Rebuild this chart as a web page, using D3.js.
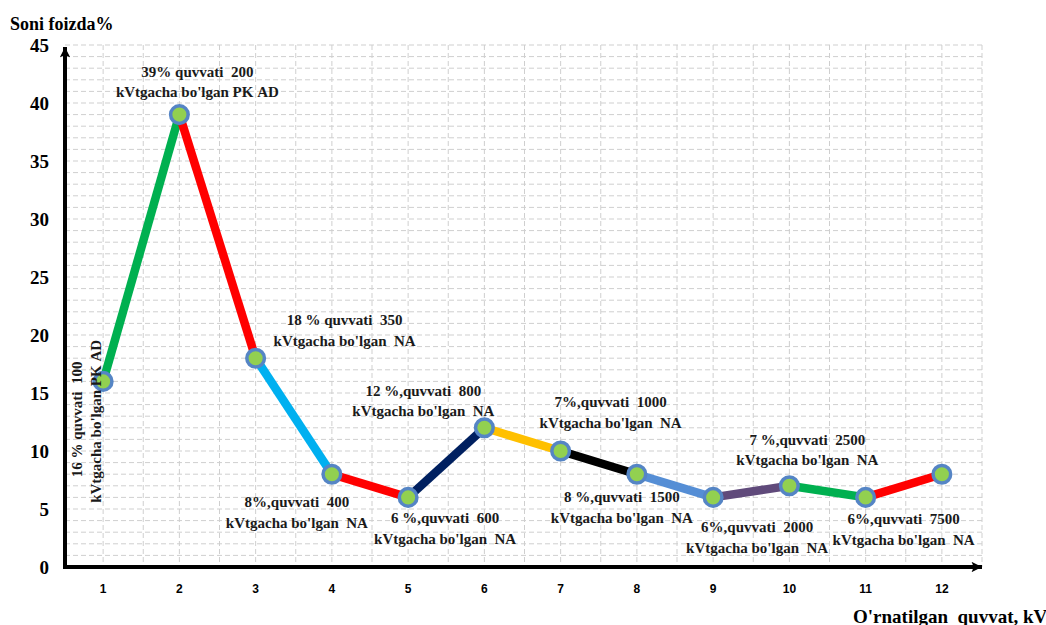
<!DOCTYPE html>
<html><head><meta charset="utf-8">
<script src="https://cdn.jsdelivr.net/npm/d3@7"></script>
<style>
body{margin:0;background:#fff;}
svg{display:block;}
.serif{font-family:"Liberation Serif","Times New Roman",Times,"DejaVu Serif",serif;font-weight:bold;}
</style></head>
<body>
<svg id="chart" width="1046" height="625"></svg>
<script>
// ---- data ----
const categories = [1,2,3,4,5,6,7,8,9,10,11,12];
const values = [16,39,18,8,6,12,10,8,6,7,6,8];
const segmentColors = ["#00b050","#ff0000","#00b0f0","#ff0000","#002060","#ffc000","#000000","#558ed5","#604a7b","#00b050","#ff0000"];
const yTicks = [0,5,10,15,20,25,30,35,40,45];
const labelLine1 = ["16 % quvvati  100","39% quvvati  200","18 % quvvati  350","8%,quvvati  400","6 %,quvvati  600","12 %,quvvati  800","7%,quvvati  1000","8 %,quvvati  1500","6%,quvvati  2000","7 %,quvvati  2500","6%,quvvati  7500",null];
const labelLine2 = ["kVtgacha bo'lgan PK AD","kVtgacha bo'lgan PK AD","kVtgacha bo'lgan  NA","kVtgacha bo'lgan  NA","kVtgacha bo'lgan  NA","kVtgacha bo'lgan  NA","kVtgacha bo'lgan  NA","kVtgacha bo'lgan  NA","kVtgacha bo'lgan  NA","kVtgacha bo'lgan  NA","kVtgacha bo'lgan  NA",null];
const yTitle = "Soni foizda%";
const xTitle = "O'rnatilgan  quvvat, kVt";

// ---- layout ----
const L = 65, R = 980, T = 45, B = 567;
const labelOffsets = [[-21,38],[18,-38],[89,-33],[-35,33],[37,26],[-61,-32],[50,-44],[-15,28],[44,35],[18,-41],[38,27]];
const nb = s => s.replace(/ /g,"\u00a0");

const svg = d3.select("#chart");
const x = d3.scaleBand().domain(categories).range([L,R]);
const y = d3.scaleLinear().domain([0,45]).range([B,T]);
const cx = c => x(c) + x.bandwidth()/2;

// grid
const grid = svg.append("g").attr("stroke","#cfcfcf").attr("stroke-width",1).attr("stroke-dasharray","5,3");
d3.range(1,46).forEach(v=>{
  grid.append("line").attr("x1",L).attr("x2",R+2).attr("y1",y(v)).attr("y2",y(v));
});
categories.forEach(c=>{
  grid.append("line").attr("x1",cx(c)).attr("x2",cx(c)).attr("y1",T).attr("y2",B);
  grid.append("line").attr("x1",x(c)+x.bandwidth()+2).attr("x2",x(c)+x.bandwidth()+2).attr("y1",T).attr("y2",B);
});

// axes
const defs = svg.append("defs");
defs.append("marker").attr("id","arr").attr("viewBox","0 0 10 10").attr("refX",10).attr("refY",5)
  .attr("markerWidth",5).attr("markerHeight",2.6).attr("markerUnits","strokeWidth").attr("orient","auto")
  .append("path").attr("d","M0,0 L10,5 L0,10 L2,5 z").attr("fill","#000");
svg.append("line").attr("x1",L).attr("y1",B+2).attr("x2",L).attr("y2",T+2).attr("stroke","#000").attr("stroke-width",4).attr("marker-end","url(#arr)");
svg.append("line").attr("x1",L-2).attr("y1",B).attr("x2",R+2).attr("y2",B).attr("stroke","#000").attr("stroke-width",4).attr("marker-end","url(#arr)");

const ya = svg.append("g").attr("transform",`translate(${L},0)`)
  .call(d3.axisLeft(y).tickValues(yTicks).tickSize(0).tickPadding(16));
ya.select(".domain").remove();
ya.attr("font-family",null).attr("font-size",null);
ya.selectAll("text").attr("class","serif").style("font-size","19px").attr("fill","#000");

const xa = svg.append("g").attr("transform",`translate(0,${B})`)
  .call(d3.axisBottom(x).tickSize(0).tickPadding(17));
xa.select(".domain").remove();
xa.selectAll("text").attr("font-family","Liberation Sans, Arial, sans-serif").attr("font-weight","bold").attr("font-size",12).attr("fill","#000");

// titles
svg.append("text").attr("x",10).attr("y",30).text(nb(yTitle)).attr("class","serif").style("font-size","18px");
svg.append("text").attr("x",853).attr("y",623).text(nb(xTitle)).attr("class","serif").style("font-size","19px");

// segments
for(let i=0;i<values.length-1;i++){
  svg.append("line")
    .attr("x1",cx(categories[i])).attr("y1",y(values[i]))
    .attr("x2",cx(categories[i+1])).attr("y2",y(values[i+1]))
    .attr("stroke",segmentColors[i]).attr("stroke-width",8.5).attr("stroke-linecap","butt");
}
// markers
svg.selectAll("circle.pt").data(values).join("circle").attr("class","pt")
  .attr("cx",(d,i)=>cx(categories[i])).attr("cy",d=>y(d)).attr("r",8.8)
  .attr("fill","#92d050").attr("stroke","#5585c5").attr("stroke-width",3.5);

// labels
const lg = svg.append("g").attr("text-anchor","middle").attr("fill","#1a1a1a");
values.forEach((v,i)=>{
  if(!labelLine1[i]) return;
  const px = cx(categories[i]), py = y(v);
  const [dx,dy] = labelOffsets[i];
  if(i===0){
    lg.append("text").attr("class","serif").style("font-size","15px").attr("transform",`translate(${px+dx},${py+dy}) rotate(-90)`).text(nb(labelLine1[i]));
    lg.append("text").attr("class","serif").style("font-size","15px").attr("transform",`translate(${px+dx+19},${py+dy+2}) rotate(-90)`).text(nb(labelLine2[i]));
  } else {
    lg.append("text").attr("class","serif").style("font-size","15px").attr("x",px+dx).attr("y",py+dy).text(nb(labelLine1[i]));
    lg.append("text").attr("class","serif").style("font-size","15px").attr("x",px+dx).attr("y",py+dy+20.5).text(nb(labelLine2[i]));
  }
});
</script>
</body></html>
